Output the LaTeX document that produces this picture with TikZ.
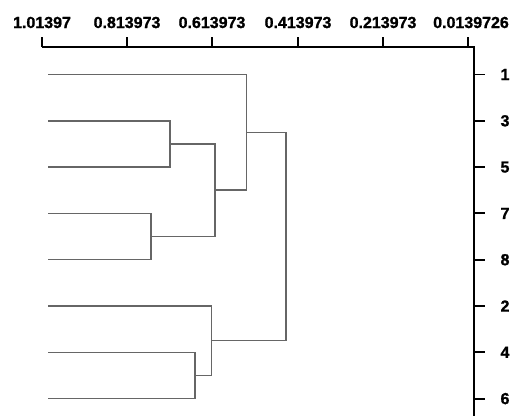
\documentclass[tikz,border=0pt]{standalone}
\usepackage{fontspec}
\setmainfont{Liberation Sans}[BoldFeatures={FakeBold=1.2}]

\begin{document}
\begin{tikzpicture}[x=1pt,y=-1pt,
    branch/.style={draw=black!60, line width=1.5pt},
    axisline/.style={draw=black, line width=1.9pt},
    ticklabel/.style={font=\fontsize{16}{16}\selectfont\bfseries, inner sep=0pt}]

    \useasboundingbox (0,0) rectangle (510,416);

    % Top axis with distances
    \coordinate (ax0) at (42,47);
    \coordinate (ax1) at (474,47);
    \draw[axisline] (ax0) -- (ax1);
    \foreach \x/\lab/\lx [count=\i] in {42/1.01397/42, 127/0.813973/127,
        212/0.613973/212, 298/0.413973/298, 383/0.213973/383, 468/0.0139726/471} {
        \coordinate (tk\i) at (\x,47);
        \draw[axisline] (tk\i) -- ++(0,-10);
        \node[ticklabel, anchor=base] (tl\i) at (\lx,28) {\lab};
    }

    % Right axis with leaf labels
    \coordinate (ay0) at (474,46);
    \coordinate (ay1) at (474,416);
    \draw[axisline] (ay0) -- (ay1);
    \foreach \y/\lab [count=\i] in {74.5/1, 120.8/3, 167.1/5, 213.4/7,
        259.7/8, 306/2, 352.3/4, 398.6/6} {
        \coordinate (rt\i) at (474,\y);
        \draw[axisline] (rt\i) -- ++(11,0);
        \node[ticklabel] (lb\lab) at (505,\y) {\lab};
        \coordinate (leaf\lab) at (48,\y);
    }

    % Merges
    \coordinate (m35) at (170,143.9);
    \coordinate (m78) at (151,236.5);
    \coordinate (m3578) at (215,190.2);
    \coordinate (m1) at (246.7,132.4);
    \coordinate (m46) at (195,375.5);
    \coordinate (m246) at (211.7,340.7);
    \coordinate (root) at (286,236.5);

    \draw[branch] (leaf3) -| (m35) |- (leaf5);
    \draw[branch] (leaf7) -| (m78) |- (leaf8);
    \draw[branch] (m35) -| (m3578) |- (m78);
    \draw[branch] (leaf1) -| (m1) |- (m3578);
    \draw[branch] (leaf4) -| (m46) |- (leaf6);
    \draw[branch] (leaf2) -| (m246) |- (m46);
    \draw[branch] (m1) -| (root) |- (m246);

\end{tikzpicture}
\end{document}
